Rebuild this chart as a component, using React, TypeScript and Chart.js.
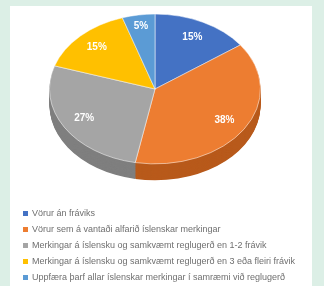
import React, { useEffect, useRef } from "react";
import { Chart, registerables } from "chart.js";

Chart.register(...registerables);

const categories = [
  "Vörur án fráviks",
  "Vörur sem á vantaði alfarið íslenskar merkingar",
  "Merkingar á íslensku og samkvæmt reglugerð en 1-2 frávik",
  "Merkingar á íslensku og samkvæmt reglugerð en 3 eða fleiri frávik",
  "Uppfæra þarf allar íslenskar merkingar í samræmi við reglugerð",
];
const values = [15, 38, 27, 15, 5];
const valueLabels = ["15%", "38%", "27%", "15%", "5%"];
const colors = ["#4472C4", "#ED7D31", "#A5A5A5", "#FFC000", "#5B9BD5"];
const sideColors = ["#2F5597", "#B85A1B", "#7F7F7F", "#BF9000", "#2E75B6"];

const SQUASH = 0.71;
const CX = 155 - 10;
const CY_TARGET = 83;
const DEPTH = 23;

export default function App() {
  const ref = useRef<HTMLCanvasElement | null>(null);

  useEffect(() => {
    if (!ref.current) return;
    const applyTransform = (ctx: CanvasRenderingContext2D, cy: number) => {
      ctx.translate(CX, CY_TARGET);
      ctx.scale(1, SQUASH);
      ctx.translate(-CX, -cy);
    };
    const tiltPlugin = {
      id: "tilt",
      beforeDatasetsDraw(chart: any) {
        const ctx = chart.ctx as CanvasRenderingContext2D;
        const meta = chart.getDatasetMeta(0);
        const cy = (chart.chartArea.top + chart.chartArea.bottom) / 2;
        ctx.save();
        applyTransform(ctx, cy);
        for (let d = DEPTH; d >= 1; d--) {
          meta.data.forEach((el: any, i: number) => {
            const p = el.getProps(["x", "y", "startAngle", "endAngle", "outerRadius"], true);
            ctx.beginPath();
            ctx.moveTo(p.x, p.y + d);
            ctx.arc(p.x, p.y + d, p.outerRadius, p.startAngle, p.endAngle);
            ctx.closePath();
            ctx.fillStyle = sideColors[i];
            ctx.fill();
          });
        }
        ctx.restore();
        ctx.save();
        applyTransform(ctx, cy);
      },
      afterDatasetsDraw(chart: any) {
        const ctx = chart.ctx as CanvasRenderingContext2D;
        ctx.restore();
        const meta = chart.getDatasetMeta(0);
        const cy = (chart.chartArea.top + chart.chartArea.bottom) / 2;
        ctx.save();
        ctx.fillStyle = "#ffffff";
        ctx.font = "bold 10px 'Liberation Sans', Arial, sans-serif";
        ctx.textAlign = "center";
        ctx.textBaseline = "middle";
        meta.data.forEach((el: any, i: number) => {
          const p = el.getProps(["x", "y", "startAngle", "endAngle", "outerRadius"], true);
          const mid = (p.startAngle + p.endAngle) / 2;
          const r = p.outerRadius * (i === 4 ? 0.85 : 0.78);
          const x = p.x + Math.cos(mid) * r;
          const y = CY_TARGET + (p.y - cy + Math.sin(mid) * r) * SQUASH;
          ctx.fillText(valueLabels[i], x, y);
        });
        ctx.restore();
      },
    };
    const chart = new Chart(ref.current, {
      type: "pie",
      data: {
        labels: categories,
        datasets: [
          {
            data: values,
            backgroundColor: colors,
            borderColor: "rgba(255,255,255,0.6)",
            borderWidth: 1,
          },
        ],
      },
      options: {
        animation: false,
        responsive: false,
        maintainAspectRatio: false,
        layout: { padding: { left: 39, right: 51, top: 4, bottom: 64 } },
        plugins: {
          legend: { display: false },
          tooltip: { enabled: false },
        },
      },
      plugins: [tiltPlugin],
    });
    return () => chart.destroy();
  }, []);

  return (
    <div
      style={{
        position: "fixed",
        left: 0,
        top: 0,
        width: 324,
        height: 286,
        background: "#dcefe6",
        overflow: "hidden",
      }}
    >
      <div
        style={{
          position: "absolute",
          left: 10,
          top: 6,
          width: 302,
          height: 280,
          background: "#ffffff",
        }}
      >
        <canvas ref={ref} width={302} height={280} style={{ display: "block", width: 302, height: 280 }} />
        <div style={{ position: "absolute", left: 13, top: 199, fontFamily: "'Liberation Sans', Arial, sans-serif", fontSize: 9, color: "#6f6f6f" }}>
          {categories.map((c, i) => (
            <div key={i} style={{ height: 16, display: "flex", alignItems: "center", whiteSpace: "nowrap" }}>
              <span style={{ display: "inline-block", width: 5, height: 5, background: colors[i], marginRight: 4 }} />
              {c}
            </div>
          ))}
        </div>
      </div>
    </div>
  );
}
